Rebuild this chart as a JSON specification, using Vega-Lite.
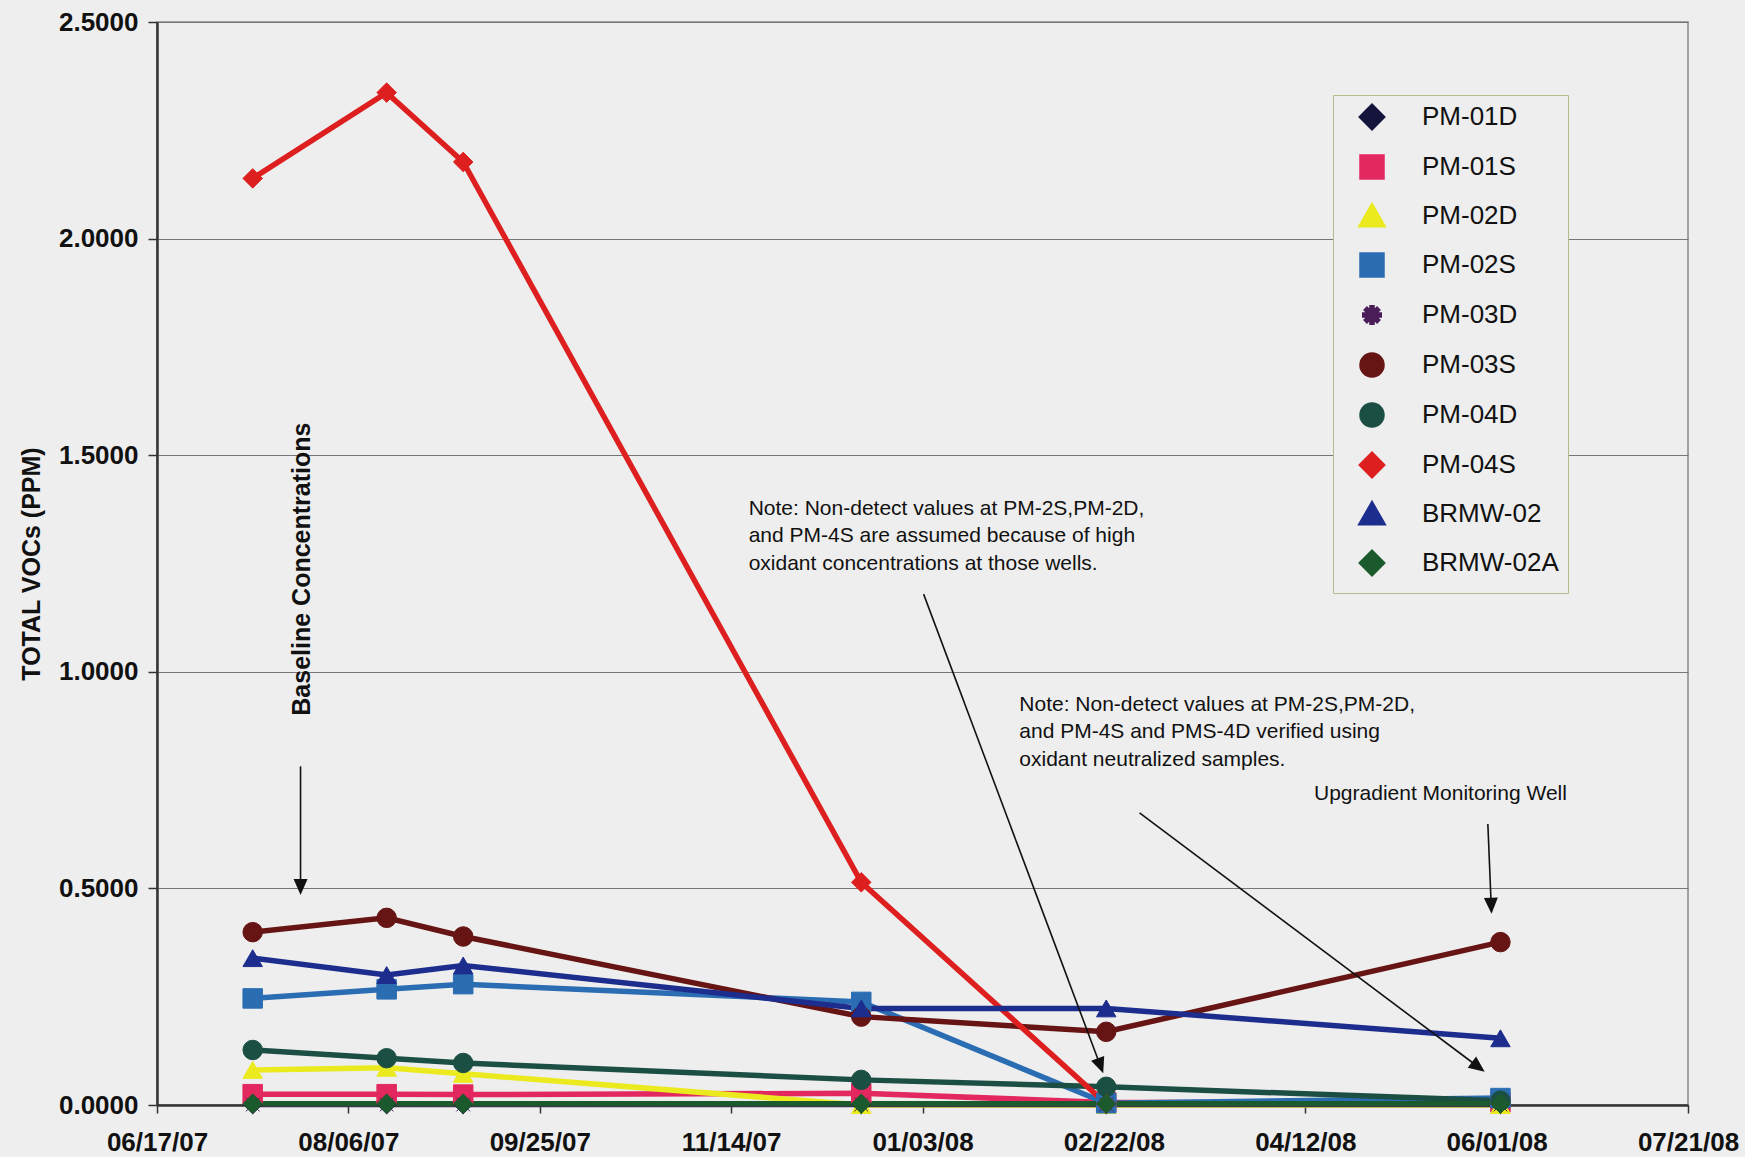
{
  "$schema": "https://vega.github.io/schema/vega-lite/v6.json",
  "width": 1531,
  "height": 1083,
  "autosize": "none",
  "padding": {"left": 157, "top": 22, "right": 57, "bottom": 52},
  "background": "#eeeeee",
  "config": {"view": {"stroke": "#888888", "strokeWidth": 1.5}, "font": "Liberation Sans"},
  "datasets": {
    "wells": [
      {"series": "PM-01D", "date": "2007-07-12", "value": 0.002},
      {"series": "PM-01D", "date": "2007-08-16", "value": 0.002},
      {"series": "PM-01D", "date": "2007-09-05", "value": 0.002},
      {"series": "PM-01D", "date": "2007-12-18", "value": 0.002},
      {"series": "PM-01D", "date": "2008-02-20", "value": 0.002},
      {"series": "PM-01D", "date": "2008-06-02", "value": 0.002},
      {"series": "PM-01S", "date": "2007-07-12", "value": 0.025},
      {"series": "PM-01S", "date": "2007-08-16", "value": 0.025},
      {"series": "PM-01S", "date": "2007-09-05", "value": 0.024},
      {"series": "PM-01S", "date": "2007-12-18", "value": 0.027},
      {"series": "PM-01S", "date": "2008-02-20", "value": 0.006},
      {"series": "PM-01S", "date": "2008-06-02", "value": 0.006},
      {"series": "PM-02D", "date": "2007-07-12", "value": 0.081},
      {"series": "PM-02D", "date": "2007-08-16", "value": 0.086},
      {"series": "PM-02D", "date": "2007-09-05", "value": 0.072},
      {"series": "PM-02D", "date": "2007-12-18", "value": 0.0},
      {"series": "PM-02D", "date": "2008-02-20", "value": 0.0},
      {"series": "PM-02D", "date": "2008-06-02", "value": 0.0},
      {"series": "PM-02S", "date": "2007-07-12", "value": 0.246},
      {"series": "PM-02S", "date": "2007-08-16", "value": 0.267},
      {"series": "PM-02S", "date": "2007-09-05", "value": 0.279},
      {"series": "PM-02S", "date": "2007-12-18", "value": 0.238},
      {"series": "PM-02S", "date": "2008-02-20", "value": 0.004},
      {"series": "PM-02S", "date": "2008-06-02", "value": 0.016},
      {"series": "PM-03D", "date": "2007-07-12", "value": 0.001},
      {"series": "PM-03D", "date": "2007-08-16", "value": 0.001},
      {"series": "PM-03D", "date": "2007-09-05", "value": 0.001},
      {"series": "PM-03D", "date": "2007-12-18", "value": 0.001},
      {"series": "PM-03D", "date": "2008-02-20", "value": 0.001},
      {"series": "PM-03D", "date": "2008-06-02", "value": 0.001},
      {"series": "PM-03S", "date": "2007-07-12", "value": 0.399},
      {"series": "PM-03S", "date": "2007-08-16", "value": 0.432},
      {"series": "PM-03S", "date": "2007-09-05", "value": 0.389},
      {"series": "PM-03S", "date": "2007-12-18", "value": 0.204},
      {"series": "PM-03S", "date": "2008-02-20", "value": 0.169},
      {"series": "PM-03S", "date": "2008-06-02", "value": 0.376},
      {"series": "PM-04D", "date": "2007-07-12", "value": 0.127},
      {"series": "PM-04D", "date": "2007-08-16", "value": 0.108},
      {"series": "PM-04D", "date": "2007-09-05", "value": 0.097},
      {"series": "PM-04D", "date": "2007-12-18", "value": 0.058},
      {"series": "PM-04D", "date": "2008-02-20", "value": 0.042},
      {"series": "PM-04D", "date": "2008-06-02", "value": 0.010},
      {"series": "PM-04S", "date": "2007-07-12", "value": 2.139},
      {"series": "PM-04S", "date": "2007-08-16", "value": 2.337},
      {"series": "PM-04S", "date": "2007-09-05", "value": 2.177},
      {"series": "PM-04S", "date": "2007-12-18", "value": 0.514},
      {"series": "PM-04S", "date": "2008-02-20", "value": 0.003},
      {"series": "BRMW-02", "date": "2007-07-12", "value": 0.339},
      {"series": "BRMW-02", "date": "2007-08-16", "value": 0.300},
      {"series": "BRMW-02", "date": "2007-09-05", "value": 0.322},
      {"series": "BRMW-02", "date": "2007-12-18", "value": 0.223},
      {"series": "BRMW-02", "date": "2008-02-20", "value": 0.223},
      {"series": "BRMW-02", "date": "2008-06-02", "value": 0.154},
      {"series": "BRMW-02A", "date": "2007-07-12", "value": 0.003},
      {"series": "BRMW-02A", "date": "2007-08-16", "value": 0.003},
      {"series": "BRMW-02A", "date": "2007-09-05", "value": 0.003},
      {"series": "BRMW-02A", "date": "2007-12-18", "value": 0.003},
      {"series": "BRMW-02A", "date": "2008-02-20", "value": 0.003},
      {"series": "BRMW-02A", "date": "2008-06-02", "value": 0.003}
    ],
    "arrows": [
      {"name": "base", "d1": "2007-07-24T12:00:00Z", "v1": 0.7818, "d2": "2007-07-24T12:00:00Z", "v2": 0.5078},
      {"name": "n1", "d1": "2008-01-03T07:00:00Z", "v1": 1.1793, "d2": "2008-02-18T07:12:00Z", "v2": 0.0947},
      {"name": "n2", "d1": "2008-02-28T17:00:00Z", "v1": 0.6742, "d2": "2008-05-26T19:00:00Z", "v2": 0.0906},
      {"name": "up", "d1": "2008-05-29T17:00:00Z", "v1": 0.6486, "d2": "2008-05-30T13:30:00Z", "v2": 0.4647}
    ],
    "notes": [
      {"d": "2007-11-18T14:00:00Z", "v": 1.3767, "t": "Note: Non-detect values at PM-2S,PM-2D,"},
      {"d": "2007-11-18T14:00:00Z", "v": 1.3127, "t": "and PM-4S are assumed because of high"},
      {"d": "2007-11-18T14:00:00Z", "v": 1.2486, "t": "oxidant concentrations at those wells."},
      {"d": "2008-01-28T07:00:00Z", "v": 0.9228, "t": "Note: Non-detect values at PM-2S,PM-2D,"},
      {"d": "2008-01-28T07:00:00Z", "v": 0.8613, "t": "and PM-4S and PMS-4D verified using"},
      {"d": "2008-01-28T07:00:00Z", "v": 0.7972, "t": "oxidant neutralized samples."},
      {"d": "2008-04-14T07:00:00Z", "v": 0.7177, "t": "Upgradient Monitoring Well"}
    ],
    "vnotes": [
      {"d": "2007-07-25", "v": 1.237, "t": "Baseline Concentrations"}
    ]
  },
  "layer": [
    {
      "data": {"name": "wells"},
      "mark": {"type": "line"},
      "encoding": {
        "x": {
          "field": "date", "type": "temporal",
          "scale": {"type": "utc", "domain": [{"year": 2007, "month": 6, "date": 17, "utc": true}, {"year": 2008, "month": 7, "date": 21, "utc": true}]},
          "axis": {
            "title": null,
            "values": [
              {"year": 2007, "month": 6, "date": 17, "utc": true},
              {"year": 2007, "month": 8, "date": 6, "utc": true},
              {"year": 2007, "month": 9, "date": 25, "utc": true},
              {"year": 2007, "month": 11, "date": 14, "utc": true},
              {"year": 2008, "month": 1, "date": 3, "utc": true},
              {"year": 2008, "month": 2, "date": 22, "utc": true},
              {"year": 2008, "month": 4, "date": 12, "utc": true},
              {"year": 2008, "month": 6, "date": 1, "utc": true},
              {"year": 2008, "month": 7, "date": 21, "utc": true}
            ],
            "format": "%m/%d/%y",
            "grid": false,
            "labelFont": "Liberation Sans", "labelFontSize": 26, "labelFontWeight": "bold", "labelColor": "#111111",
            "labelPadding": 16, "labelFlush": false, "labelOverlap": false,
            "tickSize": 8, "tickColor": "#333333", "tickWidth": 1.5,
            "domainColor": "#333333", "domainWidth": 2.5
          }
        },
        "y": {
          "field": "value", "type": "quantitative",
          "scale": {"domain": [0, 2.5], "nice": false, "zero": true},
          "axis": {
            "values": [0, 0.5, 1, 1.5, 2, 2.5],
            "format": ".4f",
            "title": "TOTAL VOCs (PPM)",
            "titleFont": "Liberation Sans", "titleFontSize": 25, "titleFontWeight": "bold", "titleColor": "#111111", "titlePadding": 14,
            "labelFont": "Liberation Sans", "labelFontSize": 26, "labelFontWeight": "bold", "labelColor": "#111111", "labelPadding": 10,
            "tickSize": 9, "tickColor": "#333333", "tickWidth": 1.5,
            "domainColor": "#333333", "domainWidth": 2.5,
            "grid": true, "gridColor": "#777777", "gridWidth": 1.2
          }
        },
        "color": {
          "field": "series", "type": "nominal",
          "scale": {
            "domain": ["PM-01D", "PM-01S", "PM-02D", "PM-02S", "PM-03D", "PM-03S", "PM-04D", "PM-04S", "BRMW-02", "BRMW-02A"],
            "range": ["#14143c", "#e2285e", "#eaea1e", "#2b6db2", "#4a1c58", "#661414", "#1c4f44", "#dd1f1f", "#1d2d8e", "#1b5a2c"]
          }
        },
        "strokeWidth": {
          "field": "series", "type": "nominal",
          "scale": {
            "domain": ["PM-01D", "PM-01S", "PM-02D", "PM-02S", "PM-03D", "PM-03S", "PM-04D", "PM-04S", "BRMW-02", "BRMW-02A"],
            "range": [5.5, 5.5, 5.5, 5.5, 1.5, 5.5, 5.5, 4.5, 5.5, 5.5]
          },
          "legend": null
        }
      }
    },
    {
      "data": {"name": "wells"},
      "mark": {"type": "point", "filled": true, "size": 380, "opacity": 1, "strokeWidth": 1},
      "encoding": {
        "x": {"field": "date", "type": "temporal"},
        "y": {"field": "value", "type": "quantitative"},
        "color": {
          "field": "series", "type": "nominal",
          "legend": {
            "title": null,
            "orient": "none", "legendX": 1176, "legendY": 73,
            "labelFont": "Liberation Sans", "labelFontSize": 26, "labelColor": "#111111", "labelLimit": 400,
            "symbolSize": 400, "symbolStrokeWidth": 4, "symbolOffset": 17, "labelOffset": 37, "rowPadding": 8, "padding": 9,
            "strokeColor": "#b9b98e", "fillColor": "#eeeeee"
          }
        },
        "shape": {
          "field": "series", "type": "nominal",
          "scale": {
            "domain": ["PM-01D", "PM-01S", "PM-02D", "PM-02S", "PM-03D", "PM-03S", "PM-04D", "PM-04S", "BRMW-02", "BRMW-02A"],
            "range": ["diamond", "square", "triangle-up", "square", "M-1,0L1,0M0,-1L0,1M-0.7,-0.7L0.7,0.7M-0.7,0.7L0.7,-0.7", "circle", "circle", "diamond", "triangle-up", "diamond"]
          },
          "legend": null
        },
        "stroke": {
          "field": "series", "type": "nominal",
          "scale": {
            "domain": ["PM-01D", "PM-01S", "PM-02D", "PM-02S", "PM-03D", "PM-03S", "PM-04D", "PM-04S", "BRMW-02", "BRMW-02A"],
            "range": ["#14143c", "#e2285e", "#eaea1e", "#2b6db2", "#4a1c58", "#661414", "#1c4f44", "#dd1f1f", "#1d2d8e", "#1b5a2c"]
          },
          "legend": null
        }
      }
    },
    {
      "data": {"name": "arrows"},
      "mark": {"type": "rule", "color": "#111111", "strokeWidth": 1.6},
      "encoding": {
        "x": {"field": "d1", "type": "temporal"},
        "y": {"field": "v1", "type": "quantitative"},
        "x2": {"field": "d2"},
        "y2": {"field": "v2"}
      }
    },
    {
      "data": {"name": "arrows"},
      "transform": [{"filter": "datum.name === 'base'"}],
      "mark": {"type": "point", "filled": true, "opacity": 1, "color": "#111111", "size": 400, "shape": "M0,-1L-0.7,0.6L0.7,0.6Z", "angle": 180},
      "encoding": {
        "x": {"field": "d2", "type": "temporal"},
        "y": {"field": "v2", "type": "quantitative"}
      }
    },
    {
      "data": {"name": "arrows"},
      "transform": [{"filter": "datum.name === 'n1'"}],
      "mark": {"type": "point", "filled": true, "opacity": 1, "color": "#111111", "size": 400, "shape": "M0,-1L-0.7,0.6L0.7,0.6Z", "angle": 159.5},
      "encoding": {
        "x": {"field": "d2", "type": "temporal"},
        "y": {"field": "v2", "type": "quantitative"}
      }
    },
    {
      "data": {"name": "arrows"},
      "transform": [{"filter": "datum.name === 'n2'"}],
      "mark": {"type": "point", "filled": true, "opacity": 1, "color": "#111111", "size": 400, "shape": "M0,-1L-0.7,0.6L0.7,0.6Z", "angle": 126.9},
      "encoding": {
        "x": {"field": "d2", "type": "temporal"},
        "y": {"field": "v2", "type": "quantitative"}
      }
    },
    {
      "data": {"name": "arrows"},
      "transform": [{"filter": "datum.name === 'up'"}],
      "mark": {"type": "point", "filled": true, "opacity": 1, "color": "#111111", "size": 400, "shape": "M0,-1L-0.7,0.6L0.7,0.6Z", "angle": 177.6},
      "encoding": {
        "x": {"field": "d2", "type": "temporal"},
        "y": {"field": "v2", "type": "quantitative"}
      }
    },
    {
      "data": {"name": "notes"},
      "mark": {"type": "text", "align": "left", "baseline": "middle", "font": "Liberation Sans", "fontSize": 21, "color": "#111111"},
      "encoding": {
        "x": {"field": "d", "type": "temporal"},
        "y": {"field": "v", "type": "quantitative"},
        "text": {"field": "t"}
      }
    },
    {
      "data": {"name": "vnotes"},
      "mark": {"type": "text", "align": "center", "baseline": "middle", "angle": 270, "font": "Liberation Sans", "fontSize": 25, "fontWeight": "bold", "color": "#111111"},
      "encoding": {
        "x": {"field": "d", "type": "temporal"},
        "y": {"field": "v", "type": "quantitative"},
        "text": {"field": "t"}
      }
    }
  ]
}
